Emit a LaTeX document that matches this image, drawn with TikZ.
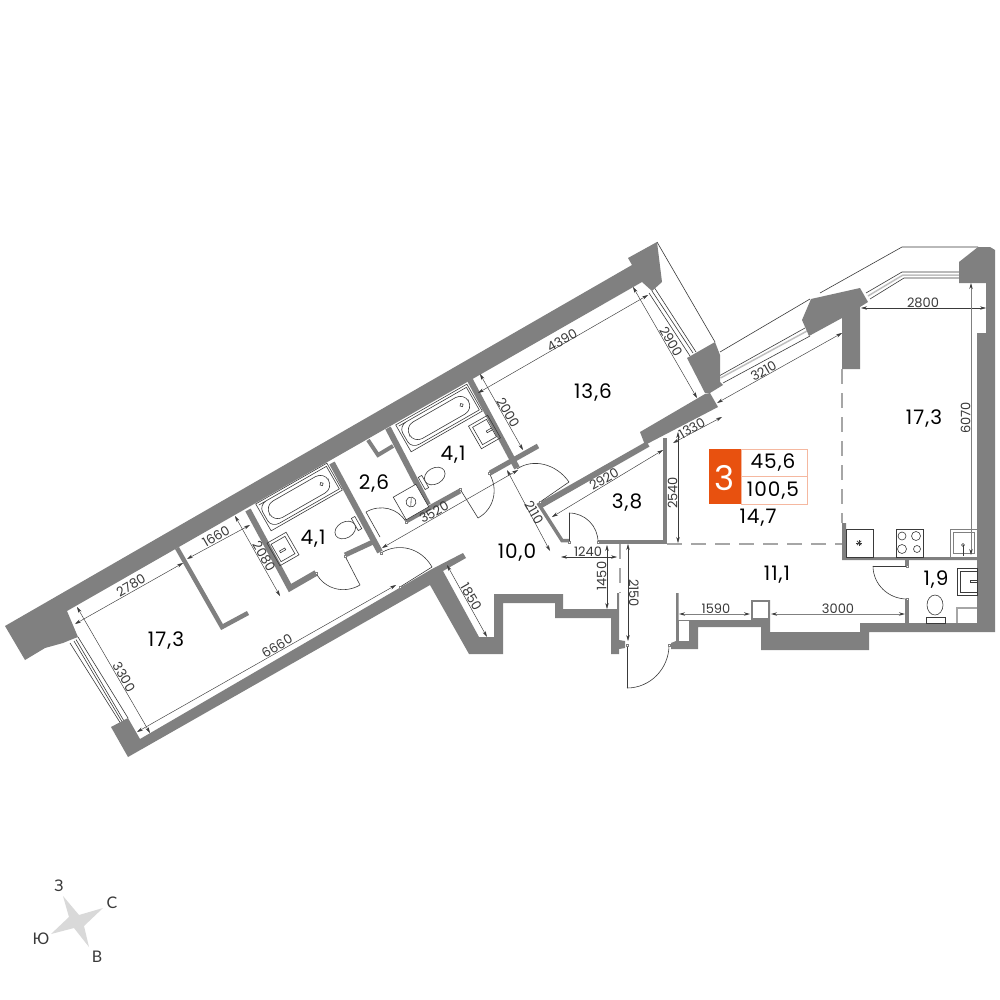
\documentclass[tikz,border=0pt]{standalone}
\usepackage{fontspec}
\usetikzlibrary{arrows.meta}
\setmainfont{Poppins}
\newfontfamily\cyr{Lato}
\newfontfamily\spaced[LetterSpace=5]{Poppins}
\definecolor{wallc}{HTML}{808080}
\definecolor{linec}{HTML}{3A3A3A}
\definecolor{orng}{HTML}{E8510F}
\definecolor{peach}{HTML}{F5B8A0}
\tikzset{
 wall/.style={fill=wallc,draw=none},
 pw/.style={draw=wallc,line width=#1,line cap=butt,line join=miter},
 thin1/.style={draw=linec,line width=0.6pt},
 dimline/.style={draw=linec,line width=0.45pt,{Stealth[length=6pt,width=3.4pt]}-{Stealth[length=6pt,width=3.4pt]}},
 dimgrey/.style={draw=wallc,line width=0.9pt,{Stealth[length=6pt,width=3.4pt,color=linec]}-{Stealth[length=6pt,width=3.4pt,color=linec]}},
 dimtext/.style={text=linec,font=\fontsize{13}{13}\selectfont,inner sep=0pt},
 room/.style={text=black,font=\spaced\fontsize{20}{20}\selectfont,inner sep=0pt},
 jamb/.style={draw=wallc,fill=white,line width=0.3pt,minimum size=2.5pt,inner sep=0pt},
 dashw/.style={draw=wallc!70,line width=1.2pt,dash pattern=on 15pt off 9pt},
}
\newcommand\dimln[8]{\draw[dimline] (#1,#2) -- (#3,#4); \node[dimtext,rotate=#8] (d#5) at (#6,#7) {#5};}
\newcommand\dimlnG[8]{\draw[dimgrey] (#1,#2) -- (#3,#4); \node[dimtext,rotate=#8] (d#5) at (#6,#7) {#5};}
\newcommand\doorarc[6]{\draw[thin1] (#3,#4) .. controls ({#3+0.5523*(#5-#1)},{#4+0.5523*(#6-#2)}) and ({#5+0.5523*(#3-#1)},{#6+0.5523*(#4-#2)}) .. (#5,#6);}
\newcommand\mybath[4]{\begin{scope}[shift={(#1,#2)},rotate=29.8]
 \draw[thin1] (-41,-15.5) rectangle (41,15.5);
 \draw[thin1] (-39,-13) -- (39,-13) -- (39,13) -- (-30,13) to[out=180,in=-90] (-39,5) -- (-39,-5) to[out=90,in=180] (-30,-13);
 \draw[thin1,rounded corners=9.5pt] (-34,-9.5) rectangle (34,9.5);
 \draw[thin1] (#3,#4) circle[radius=1.8pt];
\end{scope}}
\newcommand\mysink[4]{\begin{scope}[shift={(#1,#2)},rotate=29.8]
 \draw[thin1] (-11,-13) rectangle (11,13);
 \draw[thin1] (-8,-10) rectangle (8,10);
 \draw[thin1,fill=white] (#3,#4) rectangle ++(6,-2);
\end{scope}}
\begin{document}
\begin{tikzpicture}[x=1pt,y=-1pt]
\useasboundingbox[fill=white] (0,0) rectangle (1000,1000);
% balcony outlines
\draw[thin1] (720,352) -- (810,299);
\draw[thin1] (820,293) -- (902,247) -- (978,247);
\draw[thin1] (657,242) -- (715,342);
% windows
\draw[thin1] (70,643) -- (121,724);
\draw[thin1] (74,641) -- (122.5,722.5);
\draw[thin1] (76,639.5) -- (124,721);
\draw[thin1] (78,637) -- (128,718);
\draw[thin1] (654,287) -- (696,352);
\draw[thin1] (652,291) -- (693,353);
\draw[thin1] (649,293) -- (690,356);
\draw[thin1] (719,376) -- (805,328);
\draw[draw=wallc!50,line width=1.5pt] (720.5,378) -- (807,331);
\draw[thin1] (723,383) -- (810,336);
\draw[thin1] (866,293) -- (902,272) -- (959,272);
\draw[draw=wallc!50,line width=1.5pt] (868,296) -- (903,275) -- (959,275);
\draw[thin1] (870,299) -- (904,278) -- (959,278);
% main walls
\path[wall] (5,626) -- (632,265) -- (628,258) -- (657,242) -- (662,282) -- (652,291) -- (642,282) -- (67,611) -- (78,637) .. controls (70,640) and (63,643) .. (63,643) -- (45,648) -- (25,660) -- cycle;
\path[wall] (128,757) -- (111,727) -- (128,718) -- (140,739) -- (432,569) -- (463,553) -- (466,558) -- (443,571) -- (479,637) -- (494,637) -- (494,594) -- (563,594) -- (563,609) -- (617,609) -- (617,593) -- (619,593) -- (619,640) -- (625,641) -- (625,648) -- (619,649) -- (619,654) -- (611,654) -- (611,618) -- (555,618) -- (555,603) -- (503,603) -- (503,654) -- (469,654) -- (430,585) -- cycle;
\path[wall] (676,593) -- (678.5,593) -- (678.5,620) -- (751,620) -- (751,600) -- (770,600) -- (770,632) -- (860,632) -- (860,623) -- (977,623) -- (977,333) -- (986,333) -- (986,283) -- (959,283) -- (959,262) -- (978,247) -- (990,247) -- (995,250) -- (995,632) -- (869,632) -- (869,650) -- (761,650) -- (761,627) -- (698,627) -- (698,649) -- (671,649) -- (671,643) -- (676,641) -- cycle;
\fill[white] (678.5,621) rectangle (689,641);
\fill[white] (753,602) rectangle (768,618);
\path[wall] (802,320) -- (811,299) -- (860,288) -- (868,302) -- (860,307) -- (860,369) -- (842,369) -- (842,318) -- (809,336) -- cycle;
\path[wall] (687,358) -- (715,342) -- (720,355) -- (720,382) -- (723,385) -- (710,393) -- (705,393) -- cycle;
\path[wall] (640,432) -- (705,394) -- (710,393) -- (718,407) -- (645,445) -- cycle;
\path[wall] (842,523) -- (846,523) -- (846,557) -- (977,557) -- (977,560) -- (842,560) -- cycle;
% thin walls
\draw[pw=6pt] (470,380) -- (517,468);
\draw[pw=5pt] (538,446) -- (490,473);
\draw[pw=6pt] (388,428) -- (428,505);
\draw[pw=5pt] (460,491) -- (406,521);
\draw[pw=4pt] (368,440) -- (378,455) -- (393,446);
\draw[pw=6pt] (332,463) -- (380,552);
\draw[pw=5pt] (345,555) -- (373,542);
\draw[pw=6pt] (316,573) -- (290,588) -- (248,510);
\draw[pw=4.5pt] (177,548) -- (222,627) -- (248,613);
\draw[pw=6pt] (648,444) -- (541,505);
\draw[pw=3.5pt] (538,503) -- (562,540.5) -- (569,540.5);
\draw[pw=3.5pt] (598,542) -- (665,542);
\draw[pw=4.5pt] (665,544) -- (665,438);
\draw[pw=4pt] (907,560) -- (907,566);
\draw[pw=4pt] (907,599) -- (907,623);
% dashed
\draw[dashw] (842,369) -- (842,523);
\draw[dashw] (667,544) -- (842,544);
\draw[dashw] (620,544) -- (620,593);
% doors
\draw[thin1] (345,556) -- (360,585); \doorarc{345}{556}{360}{585}{316}{573}
\draw[thin1] (460,489) -- (478,518); \doorarc{460}{489}{478}{518}{489}{473}
\draw[thin1] (380,537) -- (366,512); \doorarc{380}{537}{366}{512}{406}{522}
\draw[thin1] (400,587) -- (432,567); \doorarc{400}{587}{432}{567}{381}{553}
\draw[thin1] (540,502) -- (569,482); \doorarc{540}{502}{569}{482}{517}{469}
\draw[thin1] (569,542) -- (569,513); \doorarc{569}{542}{569}{513}{598}{542}
\draw[thin1] (627,645) -- (627,688); \doorarc{627}{645}{627}{688}{669}{645}
\draw[thin1] (907,566) -- (873,566); \doorarc{907}{566}{873}{566}{907}{599}
\foreach \n/\x/\y in {j1/345/556,j2/316/573,j3/460/489,j4/489/473,j6/406/522,j7/400/587,j8/381/553,j9/540/502,j10/569/542,j11/598/542,j12/627/645,j13/669/645,j14/907/566,j15/907/599}
 \node[jamb] (\n) at (\x,\y) {};
% fixtures
\mybath{439}{418}{26}{0}
\mybath{299}{497}{26}{0}
\mysink{484.5}{432}{2}{2}
\mysink{283}{549}{-4}{2}
\begin{scope}[shift={(347,529)},rotate=29.8]
 \draw[thin1] (-2,0) ellipse[x radius=11pt,y radius=8pt];
 \draw[thin1,fill=white] (9,-7) rectangle (13,7);
\end{scope}
\begin{scope}[shift={(433,477)},rotate=29.8]
 \draw[thin1] (2,0) ellipse[x radius=11pt,y radius=8pt];
 \draw[thin1,fill=white] (-13,-7) rectangle (-9,7);
\end{scope}
\begin{scope}[shift={(411,502)},rotate=29.8]
 \draw[thin1,fill=white] (-13,-13) rectangle (13,13);
 \draw[thin1] (0,0) circle[radius=5pt];
 \draw[thin1] (-2,3) -- (2,-3);
\end{scope}
% kitchen / bathroom
\draw[thin1] (846,529) rectangle (873,557);
\foreach \a in {0,45,90,135}
 \draw[draw=linec,line width=0.7pt,rotate around={\a:(859,543)}] (856,543) -- (862,543);
\draw[thin1] (896,529) rectangle (923,557);
\draw[thin1] (902,536) circle[radius=4pt] (916,536) circle[radius=4.5pt] (902,549) circle[radius=4.5pt] (917,549) circle[radius=3.5pt];
\draw[draw=wallc,line width=0.8pt] (950,529) rectangle (977,557);
\draw[draw=wallc,line width=0.8pt] (953,532) rectangle (974,553);
\draw[thin1] (963,545) -- (963,556);
\draw[thin1] (963,545) circle[radius=1.5pt];
\draw[thin1] (957,568) rectangle (977,595);
\draw[thin1] (960,571) rectangle (977,592);
\draw[thin1,fill=white] (970,580) rectangle (977,582.5);
\draw[thin1] (935,605) ellipse[x radius=8pt,y radius=10pt];
\draw[thin1,fill=white] (926,617) rectangle (945,623);
\draw[draw=wallc!70,line width=2pt] (957,623) -- (957,607.5) -- (977,607.5);
% dimensions
\dimln{75}{624}{183}{563}{2780}{131}{585.5}{30}
\dimln{187}{559}{250}{525}{1660}{216}{536}{30}
\dimln{235}{516}{280}{596}{2080}{264}{556.5}{-60}
\dimln{77}{607}{150}{733}{3300}{124}{677}{-60}
\dimln{137}{732}{396}{585}{6660}{277}{646}{30}
\dimln{382}{548}{518}{470}{3520}{434}{512}{30}
\dimln{480}{374}{523}{450}{2000}{508}{412.5}{-60}
\dimln{478}{393}{648}{295}{4390}{562}{340}{30}
\dimln{633}{287}{697}{398}{2900}{671}{341.5}{-60}
\dimln{552}{517}{663}{450}{2920}{604}{479}{30}
\dimln{717}{403}{842}{333}{3210}{763.5}{371}{30}
\dimln{673}{443}{722}{417}{1330}{692}{428}{30}
\dimln{678}{432}{678}{543}{2540}{672.5}{493}{90}
\dimln{861}{308}{986}{308}{2800}{923}{302.5}{0}
\dimlnG{971}{283}{971}{555}{6070}{965.5}{418}{90}
\dimln{507}{470}{550}{551}{2110}{534}{512.5}{-60}
\dimln{561}{557}{617}{557}{1240}{588}{551.5}{0}
\dimln{607}{545}{607}{609}{1450}{601.5}{576}{90}
\dimln{628}{544}{628}{641}{2150}{634}{593}{-90}
\dimlnG{679}{614}{750}{614}{1590}{716}{608.5}{0}
\dimlnG{771}{614}{905}{614}{3000}{838}{608.5}{0}
\dimln{447}{565}{487}{637}{1850}{471}{596.5}{-60}
% room labels
\node[room] (r1) at (166,641) {17,3};
\node[room] (r2) at (313,539) {4,1};
\node[room] (r3) at (374,484) {2,6};
\node[room] (r4) at (453,455) {4,1};
\node[room] (r5) at (517,553) {10,0};
\node[room] (r6) at (593,393) {13,6};
\node[room] (r7) at (627,503) {3,8};
\node[room] (r8) at (758,518) {14,7};
\node[room] (r9) at (924,419) {17,3};
\node[room] (r10) at (777,575) {11,1};
\node[room] (r11) at (936,580) {1,9};
% badge
\draw[draw=peach,line width=0.8pt,fill=white] (741,449) rectangle (807,504);
\draw[draw=peach,line width=0.8pt] (741,476) -- (807,476);
\fill[orng] (709,449) rectangle (741,504);
\node[text=white,font=\fontsize{34}{34}\selectfont,inner sep=0pt] (b0) at (724.5,478) {3};
\node[room] (b1) at (773,463) {45,6};
\node[room] (b2) at (773,491) {100,5};
% compass
\fill[black!15] (63,896) -- (79,915) -- (103,908) -- (84,926) -- (89,947) -- (74,928) -- (51,934) -- (69,917) -- cycle;
\node[text=linec,font=\cyr\fontsize{16}{16}\selectfont,inner sep=0pt] (cz) at (59,886) {З};
\node[text=linec,font=\cyr\fontsize{16}{16}\selectfont,inner sep=0pt] (cs) at (112,903) {С};
\node[text=linec,font=\cyr\fontsize{16}{16}\selectfont,inner sep=0pt] (cv) at (97,957) {В};
\node[text=linec,font=\cyr\fontsize{16}{16}\selectfont,inner sep=0pt] (cy) at (41,939) {Ю};
\end{tikzpicture}
\end{document}
